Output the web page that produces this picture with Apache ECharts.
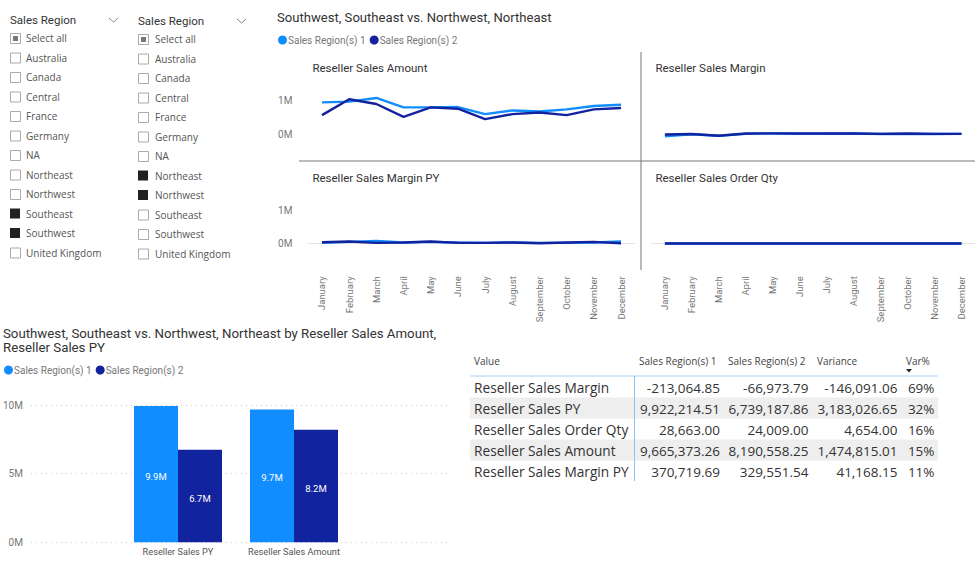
<!DOCTYPE html>
<html>
<head>
<meta charset="utf-8">
<title>Sales Region comparison</title>
<script src="https://cdn.jsdelivr.net/npm/echarts@6/dist/echarts.min.js"></script>
<style>
  html, body { margin: 0; padding: 0; background: #fff; }
  #main { width: 975px; height: 571px; }
</style>
</head>
<body>
<div id="main"></div>
<script>
// ---- data ----
const meses = ['January', 'February', 'March', 'April', 'May', 'June', 'July', 'August', 'September', 'October', 'November', 'December']
const serieNames = ['Sales Region(s) 1', 'Sales Region(s) 2']
const regiones = ['Australia', 'Canada', 'Central', 'France', 'Germany', 'NA', 'Northeast', 'Northwest', 'Southeast', 'Southwest', 'United Kingdom']
const slicer1Sel = ['Southeast', 'Southwest']
const slicer2Sel = ['Northeast', 'Northwest']

const amount1 = [940000, 960000, 1070000, 790000, 790000, 800000, 590000, 700000, 670000, 730000, 830000, 870000]
const amount2 = [560000, 1030000, 890000, 510000, 790000, 750000, 440000, 590000, 640000, 560000, 730000, 770000]
const margin1 = [-70000, -10000, -50000, 5000, 15000, 10000, 10000, 15000, 0, 5000, 0, 5000]
const margin2 = [-15000, 0, -50000, 15000, 20000, 15000, 15000, 15000, 5000, 15000, 5000, 5000]
const marginPY1 = [20000, 50000, 80000, 30000, 50000, 30000, 20000, 30000, 20000, 20000, 30000, 60000]
const marginPY2 = [40000, 60000, 20000, 30000, 60000, 20000, 20000, 30000, 10000, 30000, 50000, 10000]
const qty1 = [2300, 2600, 2900, 2100, 2500, 2400, 2000, 2400, 2300, 2300, 2500, 2800]
const qty2 = [1500, 2500, 2200, 1500, 2300, 2200, 1400, 1900, 2000, 1700, 2200, 2300]

const barCats = ['Reseller Sales PY', 'Reseller Sales Amount']
const bar1 = [9922214.51, 9665373.26]
const bar2 = [6739187.86, 8190558.25]

const tablaCols = ['Value', 'Sales Region(s) 1', 'Sales Region(s) 2', 'Variance', 'Var%']
const tablaNames = ['Reseller Sales Margin', 'Reseller Sales PY', 'Reseller Sales Order Qty', 'Reseller Sales Amount', 'Reseller Sales Margin PY']
const tablaS1 = ['-213,064.85', '9,922,214.51', '28,663.00', '9,665,373.26', '370,719.69']
const tablaS2 = ['-66,973.79', '6,739,187.86', '24,009.00', '8,190,558.25', '329,551.54']
const tablaVar = ['-146,091.06', '3,183,026.65', '4,654.00', '1,474,815.01', '41,168.15']
const tablaPct = ['69%', '32%', '16%', '15%', '11%']

// ---- styles ----
const azul = '#118DFF'
const marino = '#12239E'
const tituloFont = 'Roboto'
const textoFont = '"Open Sans"'
const dotted = { show: true, lineStyle: { color: '#c8c8c8', type: [1, 4], width: 1 } }

function enM(v) { return v / 1000000 + 'M' }

// ---- small multiples ----
const paneles = [
  { title: 'Reseller Sales Amount', a: amount1, b: amount2, left: 308.4, top: 66.6, height: 94.4, labels: false, yLabels: true },
  { title: 'Reseller Sales Margin', a: margin1, b: margin2, left: 651.4, top: 66.6, height: 94.4, labels: false, yLabels: false },
  { title: 'Reseller Sales Margin PY', a: marginPY1, b: marginPY2, left: 308.4, top: 176.9, height: 93.3, labels: true, yLabels: true },
  { title: 'Reseller Sales Order Qty', a: qty1, b: qty2, left: 651.4, top: 176.9, height: 93.3, labels: true, yLabels: false }
]

const grids = [], xAxes = [], yAxes = [], series = [], titles = []

paneles.forEach((p, i) => {
  grids.push({ left: p.left, top: p.top, width: 326.2, height: p.height })
  xAxes.push({
    type: 'category', gridIndex: i, data: meses,
    axisTick: { show: false },
    axisLine: { show: p.labels, lineStyle: { color: '#e4e4e4' } },
    axisLabel: { show: p.labels, rotate: 90, interval: 0, margin: 6, fontSize: 9.5, color: '#777', fontFamily: tituloFont }
  })
  yAxes.push({
    type: 'value', gridIndex: i, min: -800000, max: 2000000,
    axisLine: { show: false },
    axisTick: { show: false, customValues: [0, 1000000] },
    axisLabel: { show: p.yLabels, customValues: [0, 1000000], formatter: enM, fontSize: 10, color: '#777', margin: 16, fontFamily: tituloFont },
    splitLine: Object.assign({ showMinLine: false, showMaxLine: false }, dotted)
  })
  serieNames.forEach((n, k) => {
    series.push({
      name: n, type: 'line', xAxisIndex: i, yAxisIndex: i, data: k === 0 ? p.a : p.b,
      symbol: 'none', lineStyle: { width: 2.4, color: k === 0 ? azul : marino },
      itemStyle: { color: k === 0 ? azul : marino }, z: 2 + k
    })
  })
  titles.push({
    text: p.title, left: p.left + 4, top: i < 2 ? 61.5 : 171.5, padding: 0,
    textStyle: { fontSize: 11.5, fontWeight: 'normal', color: '#333', fontFamily: tituloFont }
  })
})

// ---- bar chart: one grid for the dotted lines, a narrower one for the bars ----
grids.push({ left: 30, top: 405, width: 417, height: 137.3 })
xAxes.push({ type: 'category', gridIndex: 4, data: barCats, show: false })
yAxes.push({
  type: 'value', gridIndex: 4, min: 0, max: 10000000, interval: 5000000,
  axisLine: { show: false }, axisTick: { show: false },
  axisLabel: { formatter: enM, fontSize: 10, color: '#777', margin: 8, fontFamily: tituloFont },
  splitLine: dotted
})
grids.push({ left: 120, top: 405, width: 232, height: 137.3 })
xAxes.push({
  type: 'category', gridIndex: 5, data: barCats,
  axisLine: { show: false }, axisTick: { show: false },
  axisLabel: { interval: 0, fontSize: 9.2, color: '#555', margin: 5, fontFamily: tituloFont }
})
yAxes.push({ type: 'value', gridIndex: 5, min: 0, max: 10000000, show: false, splitLine: { show: false } })
;[bar1, bar2].forEach((d, k) => {
  series.push({
    name: serieNames[k], type: 'bar', xAxisIndex: 5, yAxisIndex: 5, data: d,
    barWidth: 44, barGap: 0, itemStyle: { color: k === 0 ? azul : marino },
    label: {
      show: true, position: 'inside', offset: [0, 2], color: '#fff', fontSize: 9.5, fontFamily: tituloFont,
      formatter: (p) => (p.value / 1000000).toFixed(1) + 'M'
    }
  })
})

titles.push({
  text: 'Southwest, Southeast vs. Northwest, Northeast', left: 277, top: 10.5, padding: 0,
  textStyle: { fontSize: 13.1, fontWeight: 'normal', color: '#333', fontFamily: tituloFont }
})
titles.push({
  text: 'Southwest, Southeast vs. Northwest, Northeast by Reseller Sales Amount,\nReseller Sales PY', left: 3, top: 326, padding: 0,
  textStyle: { fontSize: 13.25, fontWeight: 'normal', color: '#333', lineHeight: 14.5, fontFamily: tituloFont }
})

// ---- slicers and table, as graphic elements ----
const g = []
function texto(x, y, t, size, color, align, font) {
  g.push({
    type: 'text', x: x, y: y, silent: true,
    style: { text: t, fontSize: size, fill: color, align: align || 'left', verticalAlign: 'middle', fontFamily: font || textoFont }
  })
}
function caja(x, y, w, h, fill, stroke) {
  g.push({ type: 'rect', silent: true, shape: { x: x, y: y, width: w, height: h }, style: { fill: fill, stroke: stroke || null, lineWidth: 1 } })
}
function linea(x1, y1, x2, y2, color, w) {
  g.push({ type: 'line', silent: true, shape: { x1: x1, y1: y1, x2: x2, y2: y2 }, style: { stroke: color, lineWidth: w } })
}

function slicer(x, y, sel, textGap) {
  texto(x, y, 'Sales Region', 11.5, '#333', 'left', tituloFont)
  g.push({ type: 'polyline', silent: true, shape: { points: [[x + 99, y - 2], [x + 103.5, y + 2], [x + 108, y - 2]] }, style: { stroke: '#888', fill: null, lineWidth: 1 } })
  const filas = ['Select all'].concat(regiones)
  filas.forEach((r, i) => {
    const yy = y + 18 + i * 19.5
    if (sel.includes(r)) {
      caja(x, yy - 5, 10, 10, '#222')
    } else {
      caja(x + 0.5, yy - 4.5, 10, 10, '#fff', '#aaa')
      if (i === 0) caja(x + 3, yy - 2, 5, 5, '#777')
    }
    texto(x + textGap, yy, r, 10, '#555')
  })
}
slicer(10, 20, slicer1Sel, 16)
slicer(138, 21, slicer2Sel, 17)

// separators of the small multiples
linea(299, 161, 975, 161, '#777', 1)
linea(641, 52, 641, 270, '#777', 1)

// table
const colX = [474, 639, 728, 817, 906]
tablaCols.forEach((c, i) => texto(colX[i], 361, c, 10, '#444'))
g.push({ type: 'polygon', silent: true, shape: { points: [[906, 369], [912, 369], [909, 372.5]] }, style: { fill: '#222' } })
caja(470, 397.5, 468, 21, '#eeeeee')
caja(470, 439.5, 468, 21, '#eeeeee')
linea(470, 376, 938, 376, '#a8d2f8', 1)
linea(634.5, 376, 634.5, 481, '#8cc4f7', 1)
tablaNames.forEach((n, i) => {
  const yy = 387.7 + i * 21
  texto(474, yy, n, 13.7, '#333')
  texto(720, yy, tablaS1[i], 13.5, '#333', 'right')
  texto(808.5, yy, tablaS2[i], 13.5, '#333', 'right')
  texto(897.5, yy, tablaVar[i], 13.5, '#333', 'right')
  texto(934.5, yy, tablaPct[i], 13.5, '#333', 'right')
})

const leyenda = (left, top) => ({
  data: serieNames, left: left, top: top, icon: 'circle', itemWidth: 9, itemHeight: 9, itemGap: 4, padding: 0,
  selectedMode: false, textStyle: { fontSize: 10, color: '#777', padding: [0, 0, 0, -4], fontFamily: tituloFont }
})

const myChart = echarts.init(document.getElementById('main'), null, { renderer: 'svg' })
myChart.setOption({
  animation: false,
  backgroundColor: '#fff',
  title: titles,
  legend: [leyenda(278, 35), leyenda(4, 365)],
  grid: grids,
  xAxis: xAxes,
  yAxis: yAxes,
  series: series,
  graphic: g
})
</script>
</body>
</html>
